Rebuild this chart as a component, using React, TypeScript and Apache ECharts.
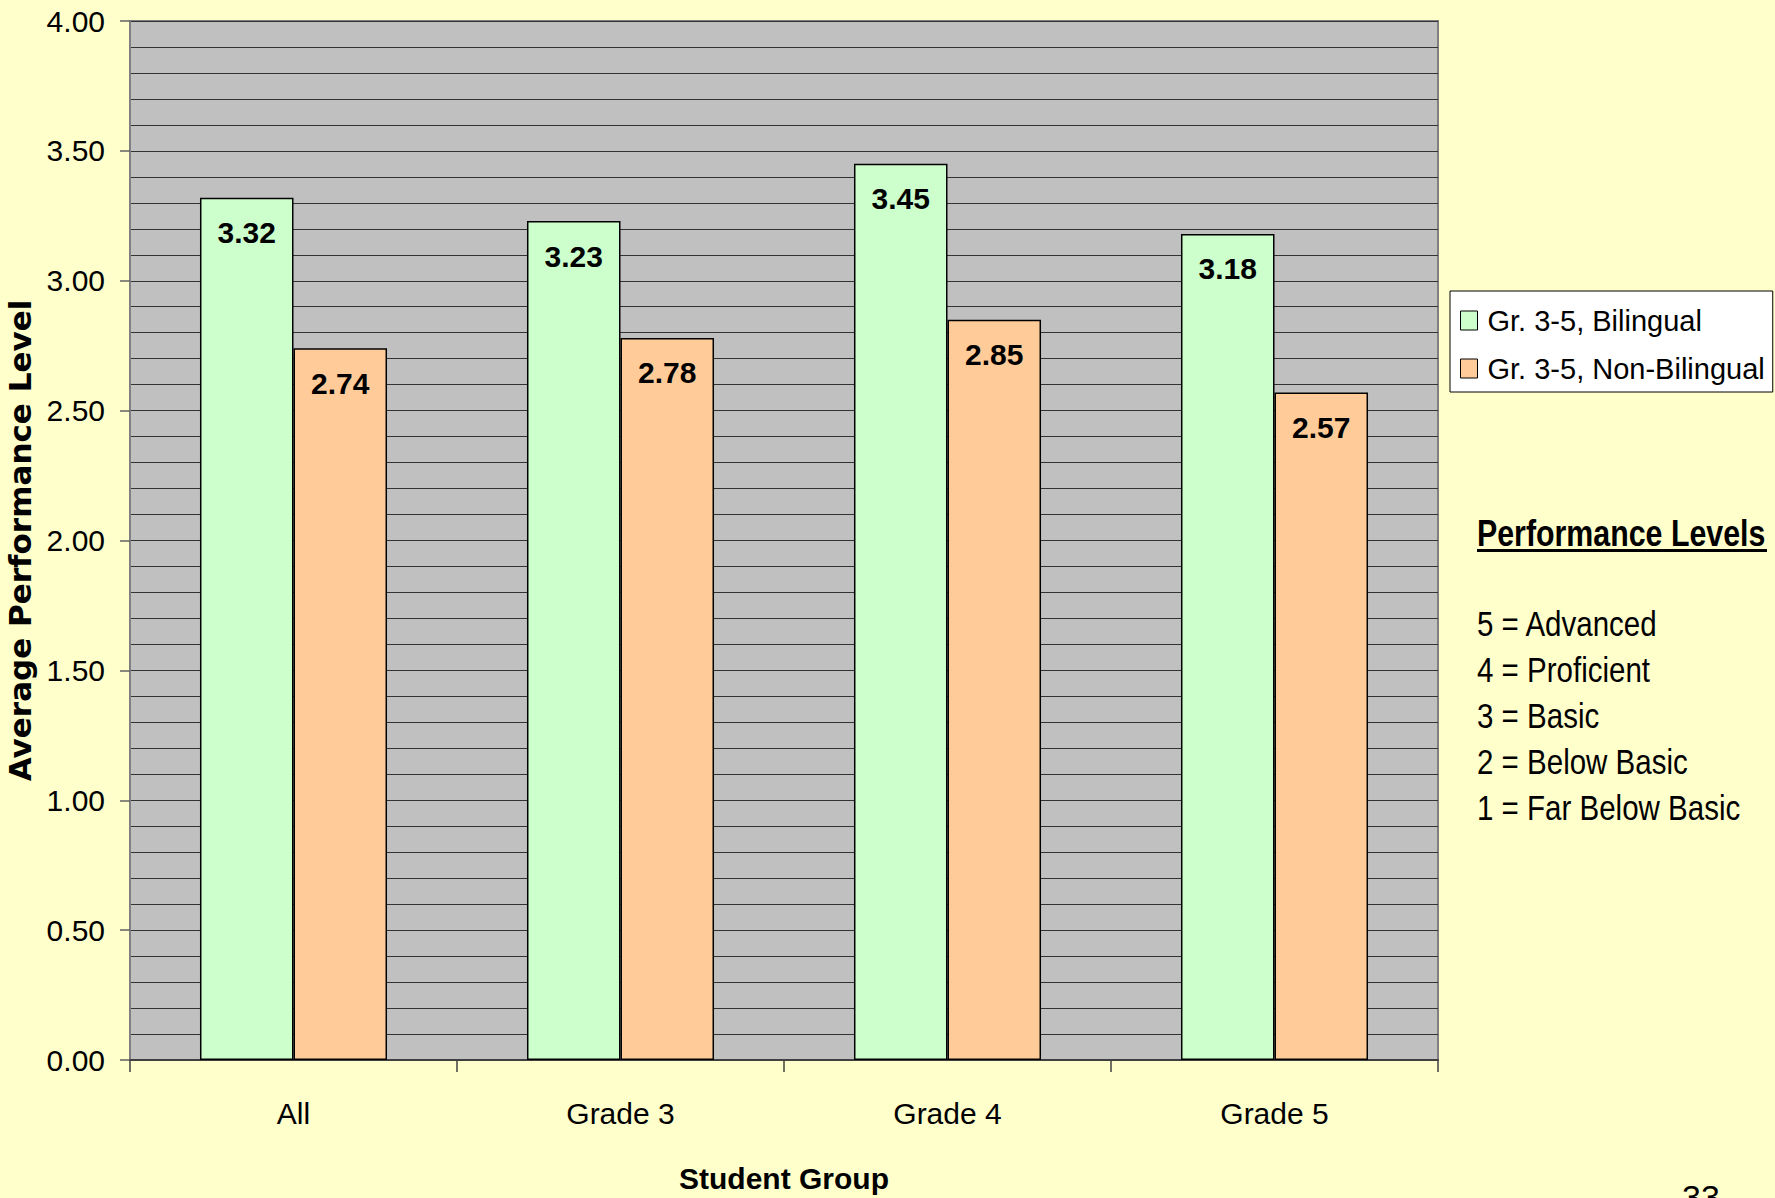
import React, { useEffect, useRef } from "react";
import * as echarts from "echarts";

// Student groups on the x axis
const categories: string[] = ["All", "Grade 3", "Grade 4", "Grade 5"];

// Average performance level per group
const bilingual: number[] = [3.32, 3.23, 3.45, 3.18];
const nonBilingual: number[] = [2.74, 2.78, 2.85, 2.57];

const seriesNames: string[] = ["Gr. 3-5, Bilingual", "Gr. 3-5, Non-Bilingual"];

// Key for the performance level scale
const levelsTitle = "Performance Levels";
const levelLines: string[] = [
  "5 = Advanced",
  "4 = Proficient",
  "3 = Basic",
  "2 = Below Basic",
  "1 = Far Below Basic",
];

const pageNumber = "33";

const SANS = '"Liberation Sans", Arial, sans-serif';
// horizontal squeeze that gives the free-standing key texts a narrow face
const NARROW_SCALE = 0.82;

export default function App() {
  const ref = useRef<HTMLDivElement>(null);

  useEffect(() => {
    if (!ref.current) return;
    const chart = echarts.init(ref.current, undefined, { renderer: "svg" });

    const labelStyle = {
      show: true,
      position: "insideTop" as const,
      distance: 20,
      fontFamily: SANS,
      fontWeight: "bold" as const,
      fontSize: 30,
      color: "#000",
      formatter: (p: any) => Number(p.value).toFixed(2),
    };

    const keyTexts = levelLines.map((line, i) => ({
      type: "text",
      x: 1477,
      y: 623 + i * 46,
      scaleX: NARROW_SCALE,
      style: {
        text: line,
        fontFamily: SANS,
        fontSize: 36,
        fill: "#000",
        align: "left",
        verticalAlign: "middle",
      },
    }));

    chart.setOption({
      animation: false,
      backgroundColor: "#FFFFCC",
      grid: {
        left: 130,
        top: 21,
        right: 337,
        bottom: 138,
        outerBoundsMode: "none",
        show: true,
        backgroundColor: "#C0C0C0",
        borderColor: "#808080",
        borderWidth: 2,
      },
      legend: {
        orient: "vertical",
        left: 1450,
        top: 291,
        backgroundColor: "#FFFFFF",
        borderColor: "#000",
        borderWidth: 1,
        padding: [15, 8, 9, 10],
        itemGap: 19,
        itemWidth: 17,
        itemHeight: 19,
        icon: "rect",
        itemStyle: { borderColor: "#000", borderWidth: 1 },
        textStyle: { fontFamily: SANS, fontSize: 29, color: "#000", padding: [0, 0, 0, 5] },
        data: seriesNames,
      },
      xAxis: {
        type: "category",
        data: categories,
        name: "Student Group",
        nameLocation: "middle",
        nameGap: 103,
        nameTextStyle: { fontFamily: SANS, fontWeight: "bold", fontSize: 30, color: "#000" },
        axisLine: { lineStyle: { color: "#404040", width: 2 } },
        axisTick: { show: true, length: 12, lineStyle: { color: "#404040", width: 1.5 } },
        axisLabel: { margin: 38, fontFamily: SANS, fontSize: 30, color: "#000" },
        splitLine: { show: false },
      },
      yAxis: {
        type: "value",
        min: 0,
        max: 4,
        interval: 0.5,
        name: "Average Performance Level",
        nameLocation: "middle",
        nameRotate: 90,
        nameGap: 92,
        nameTextStyle: { fontFamily: '"DejaVu Sans", sans-serif', fontWeight: "bold", fontSize: 31, color: "#000" },
        axisLine: { show: true, lineStyle: { color: "#808080", width: 2 } },
        axisTick: { show: true, length: 10, lineStyle: { color: "#606060", width: 1.5 } },
        axisLabel: {
          margin: 25,
          fontFamily: SANS,
          fontSize: 30,
          color: "#000",
          formatter: (v: number) => v.toFixed(2),
        },
        splitLine: { show: true, lineStyle: { color: "#333", width: 1 } },
        minorTick: { show: false, splitNumber: 5 },
        minorSplitLine: { show: true, lineStyle: { color: "#333", width: 1 } },
      },
      series: [
        {
          name: seriesNames[0],
          type: "bar",
          data: bilingual,
          barGap: "0%",
          barCategoryGap: "42.8%",
          itemStyle: { color: "#CCFFCC", borderColor: "#000", borderWidth: 1.5 },
          label: labelStyle,
        },
        {
          name: seriesNames[1],
          type: "bar",
          data: nonBilingual,
          barGap: "0%",
          barCategoryGap: "42.8%",
          itemStyle: { color: "#FFCC99", borderColor: "#000", borderWidth: 1.5 },
          label: labelStyle,
        },
      ],
      graphic: [
        {
          type: "text",
          x: 1477,
          y: 533,
          scaleX: NARROW_SCALE,
          style: {
            text: levelsTitle,
            fontFamily: SANS,
            fontWeight: "bold",
            fontSize: 37,
            fill: "#000",
            align: "left",
            verticalAlign: "middle",
          },
        },
        {
          type: "rect",
          shape: { x: 1477, y: 549, width: 290, height: 3 },
          style: { fill: "#000" },
        },
        ...keyTexts,
        {
          type: "text",
          x: 1701,
          y: 1180,
          style: {
            text: pageNumber,
            fontFamily: SANS,
            fontSize: 34,
            fill: "#000",
            align: "center",
            verticalAlign: "top",
          },
        },
      ],
    });

    return () => chart.dispose();
  }, []);

  return (
    <div
      ref={ref}
      style={{ position: "fixed", left: 0, top: 0, width: 1775, height: 1198 }}
    />
  );
}
